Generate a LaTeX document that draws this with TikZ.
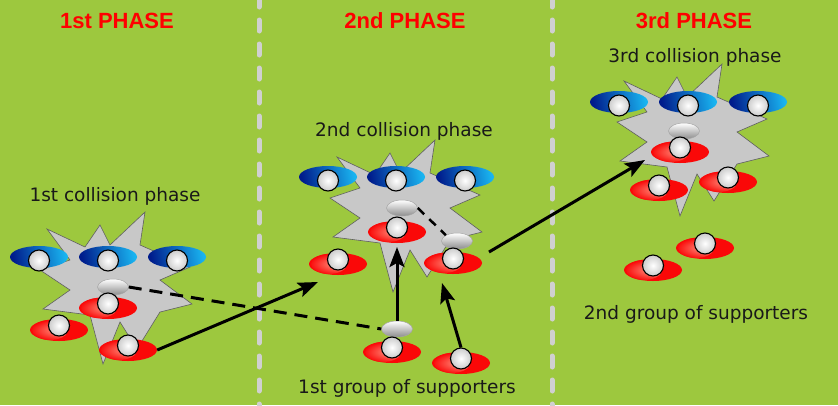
\documentclass[tikz,border=0pt]{standalone}
\usepackage{fontspec}
\setmainfont{DejaVu Sans}
\newfontfamily\headfont{Liberation Sans}
\usetikzlibrary{shapes.geometric,arrows.meta}

\definecolor{field}{RGB}{157,200,62}
\definecolor{lineclr}{RGB}{208,208,208}
\definecolor{burstfill}{RGB}{200,200,200}
\definecolor{burstline}{RGB}{95,95,95}
\definecolor{navy}{RGB}{0,28,140}
\definecolor{sky}{RGB}{25,180,240}
\definecolor{salmon}{RGB}{255,155,135}
\definecolor{shirt}{RGB}{250,8,8}

\tikzset{
  divider/.style={lineclr, line width=5pt, line cap=round, dash pattern=on 11pt off 13pt},
  phasetitle/.style={text=red, font=\headfont\bfseries\fontsize{22}{24}\selectfont},
  caption/.style={font=\fontsize{18.5}{20}\selectfont, text=black!90},
  body/.style={ellipse, inner sep=0pt, minimum width=58pt, minimum height=22pt},
  bluebody/.style={body, left color=navy, middle color=navy!80!sky, right color=sky, shading angle=100},
  redbody/.style={body, fill=shirt,
    path picture={\shade[inner color=salmon, outer color=shirt]
      ([xshift=-9pt]path picture bounding box.center) ellipse [x radius=18pt, y radius=10pt];}},
  head/.style={circle, inner sep=0pt, minimum size=21pt, shading=radial,
    inner color=white, outer color=white!80!black, draw=black, line width=1.1pt},
  helmet/.style={ellipse, inner sep=0pt, minimum width=31pt, minimum height=16pt,
    top color=white, middle color=black!18, bottom color=black!45, draw=black!35, line width=0.5pt},
  burst/.style={fill=burstfill, draw=burstline, line width=0.6pt, line join=miter},
  push/.style={draw=black, line width=3pt, -{Stealth[length=20pt,width=15pt,inset=4pt]}},
  link/.style={draw=black, line width=3pt, dash pattern=on 13pt off 8pt},
}

% a player: body ellipse plus head disc
\newcommand\redplayer[3]{%
  \node[redbody] (#1) at (#2,#3) {};
  \node[head] (#1h) at ([yshift=4.5pt]#1.center) {};}
\newcommand\blueplayer[3]{%
  \node[bluebody] (#1) at (#2,#3) {};
  \node[head] (#1h) at ([yshift=-3.5pt]#1.center) {};}
% the grey collision burst around a centre point
\newcommand\burstat[2]{%
  \draw[burst, shift={(#1,#2)}] (-68,-56) -- (-30,-38) -- (-15,-60) -- (-5,-40)
    -- (30,-73) -- (25,-40) -- (75,-18) -- (45,-5) -- (77,19) -- (45,27)
    -- (22,64) -- (5,37) -- (-12,79) -- (-25,30) -- (-72,24) -- (-45,5)
    -- (-75,-15) -- (-45,-25) -- cycle;}

\begin{document}
\begin{tikzpicture}[x=1pt, y=-1pt]
  \fill[field] (0,0) rectangle (838,405);
  \useasboundingbox (0,0) rectangle (838,405);

  % phase separators
  \draw[divider] (259,-4) -- (259,410);
  \draw[divider] (552,-4) -- (552,410);

  % phase titles
  \node[phasetitle] (t1) at (117,21) {1st PHASE};
  \node[phasetitle] (t2) at (405,21) {2nd PHASE};
  \node[phasetitle] (t3) at (694,21) {3rd PHASE};

  % ---- 1st phase
  \node[caption] (c1) at (115,196) {1st collision phase};
  \burstat{115}{285}
  \blueplayer{b1a}{39}{257}
  \blueplayer{b1b}{108}{257}
  \blueplayer{b1c}{177}{257}
  \node[helmet] (h1) at (113,287) {};
  \redplayer{r1a}{108}{308}
  \redplayer{r1b}{59}{330}
  \redplayer{r1c}{128}{350}

  % ---- 2nd phase
  \node[caption] (c2) at (404,131) {2nd collision phase};
  \burstat{405}{213}
  \blueplayer{b2a}{328}{177}
  \blueplayer{b2b}{396}{177}
  \blueplayer{b2c}{465}{177}
  \node[helmet] (h2a) at (402,208) {};
  \redplayer{r2a}{397}{232}
  \redplayer{r2b}{338}{264}
  \node[helmet] (h2c) at (457,241) {};
  \redplayer{r2c}{453}{263}

  % 1st group of supporters
  \node[helmet] (hb) at (397,329) {};
  \redplayer{rb1}{392}{352}
  \redplayer{rb2}{461}{363}
  \node[caption] (c4) at (407,388) {1st group of supporters};

  % ---- 3rd phase
  \node[caption] (c3) at (695,57) {3rd collision phase};
  \burstat{692}{137}
  \blueplayer{b3a}{619}{102}
  \blueplayer{b3b}{688}{102}
  \blueplayer{b3c}{758}{102}
  \node[helmet] (h3) at (684,131) {};
  \redplayer{r3a}{680}{152}
  \redplayer{r3b}{659}{190}
  \redplayer{r3c}{728}{182}

  % 2nd group of supporters
  \redplayer{rc1}{653}{270}
  \redplayer{rc2}{705}{248}
  \node[caption] (c5) at (696,314) {2nd group of supporters};

  % ---- movements
  \coordinate (tipA) at (318,282);
  \coordinate (tipB) at (397,247);
  \coordinate (tipC) at (442,283);
  \coordinate (fromE) at (489,252);
  \coordinate (tipE) at (645,160);

  \draw[link] (h1.east) -- (hb.west);
  \draw[link, line width=2.5pt, dash pattern=on 9pt off 7pt] (h2a.east) -- (h2c.north west);
  \draw[push] (r1c.east) -- (tipA);
  \draw[push] (hb.north) -- (tipB);
  \draw[push] (rb2h.north) -- (tipC);
  \draw[push] (fromE) -- (tipE);
\end{tikzpicture}
\end{document}
